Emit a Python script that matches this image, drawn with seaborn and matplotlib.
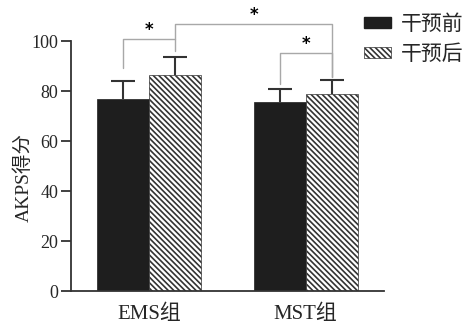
import matplotlib
matplotlib.use('Agg')
import matplotlib.pyplot as plt
from matplotlib.patches import Patch
import seaborn as sns
import pandas as pd

groups = ['EMS组', 'MST组']
phases = ['干预前', '干预后']
before_mean = [76.8, 75.7]
after_mean = [86.5, 78.8]
before_err = [7.2, 5.1]
after_err = [7.0, 5.5]

# significance brackets: ((group, phase) a, (group, phase) b, a-leg bottom, top, b-leg bottom, star y)
brackets = [
    ((0, 0), (0, 1), 89.3, 100.7, 95.9, 104.2),
    ((0, 1), (1, 1), 100.7, 106.7, 85.7, 110.3),
    ((1, 0), (1, 1), 82.8, 95.3, 85.7, 98.9),
]

sns.set_theme(style='ticks')
plt.rcParams['font.family'] = ['Liberation Serif', 'Noto Sans CJK SC']
plt.rcParams['hatch.linewidth'] = 1.2

df = pd.DataFrame({
    'group': groups * 2,
    'phase': [phases[0]] * len(groups) + [phases[1]] * len(groups),
    'score': before_mean + after_mean,
})

fig = plt.figure(figsize=(4.72, 3.26), dpi=100)
ax = fig.add_axes([71 / 472, 35 / 326, 313 / 472, 250 / 326])
sns.barplot(data=df, x='group', y='score', hue='phase', order=groups,
            hue_order=phases, palette=['#1e1e1e', 'white'], width=0.667,
            errorbar=None, saturation=1, legend=False, ax=ax)

dark = '#333333'
hatch = '\\\\\\\\\\\\'
bar_conts = list(ax.containers)[:2]
for bar in bar_conts[0]:
    bar.set_edgecolor('#1e1e1e')
    bar.set_linewidth(0.5)
for bar in bar_conts[1]:
    bar.set_hatch(hatch)
    bar.set_edgecolor(dark)
    bar.set_linewidth(0.5)

errs = [before_err, after_err]
centers = []
for ci, cont in enumerate(bar_conts):
    xs = [b.get_x() + b.get_width() / 2 for b in cont]
    hs = [b.get_height() for b in cont]
    centers.append(xs)
    eb = ax.errorbar(xs, hs, yerr=[[0] * len(hs), errs[ci]], fmt='none',
                     ecolor=dark, elinewidth=1.5, capsize=8.5, capthick=1.5, zorder=3)
    eb[1][0].set_visible(False)

for (ga, ha), (gb, hb), ya, yt, yb, ys in brackets:
    xa = centers[ha][ga]
    xb = centers[hb][gb]
    ax.plot([xa, xa, xb, xb], [ya, yt, yt, yb], color='#a8a8a8', lw=1.0,
            clip_on=False, zorder=4)
    ax.text((xa + xb) / 2, ys, '*', ha='center', va='center', fontsize=12,
            fontweight='bold', family='DejaVu Sans', color='black')

ax.set_xlim(-0.5, 1.5)
ax.set_ylim(0, 100)
ax.set_yticks([0, 20, 40, 60, 80, 100])
ax.set_xlabel('')
ax.set_ylabel('AKPS得分', fontsize=14)
ax.yaxis.set_label_coords(-0.122, 0.452)
sns.despine(ax=ax)
for s in ['left', 'bottom']:
    ax.spines[s].set_color(dark)
    ax.spines[s].set_linewidth(1.3)
ax.tick_params(axis='y', length=7, width=1.3, color=dark, labelsize=13, pad=2)
ax.tick_params(axis='x', length=0, labelsize=15, pad=10)

handles = [Patch(facecolor='#1e1e1e', edgecolor='#1e1e1e'),
           Patch(facecolor='white', edgecolor=dark, hatch=hatch, lw=0.5)]
fig.legend(handles, phases, loc='upper left', bbox_to_anchor=(364 / 472, 1 - 15 / 326),
           frameon=False, borderpad=0, handlelength=1.3, handleheight=0.45,
           handletextpad=0.45, labelspacing=0.5, fontsize=15, borderaxespad=0)

fig.savefig('out.png', dpi=100)
